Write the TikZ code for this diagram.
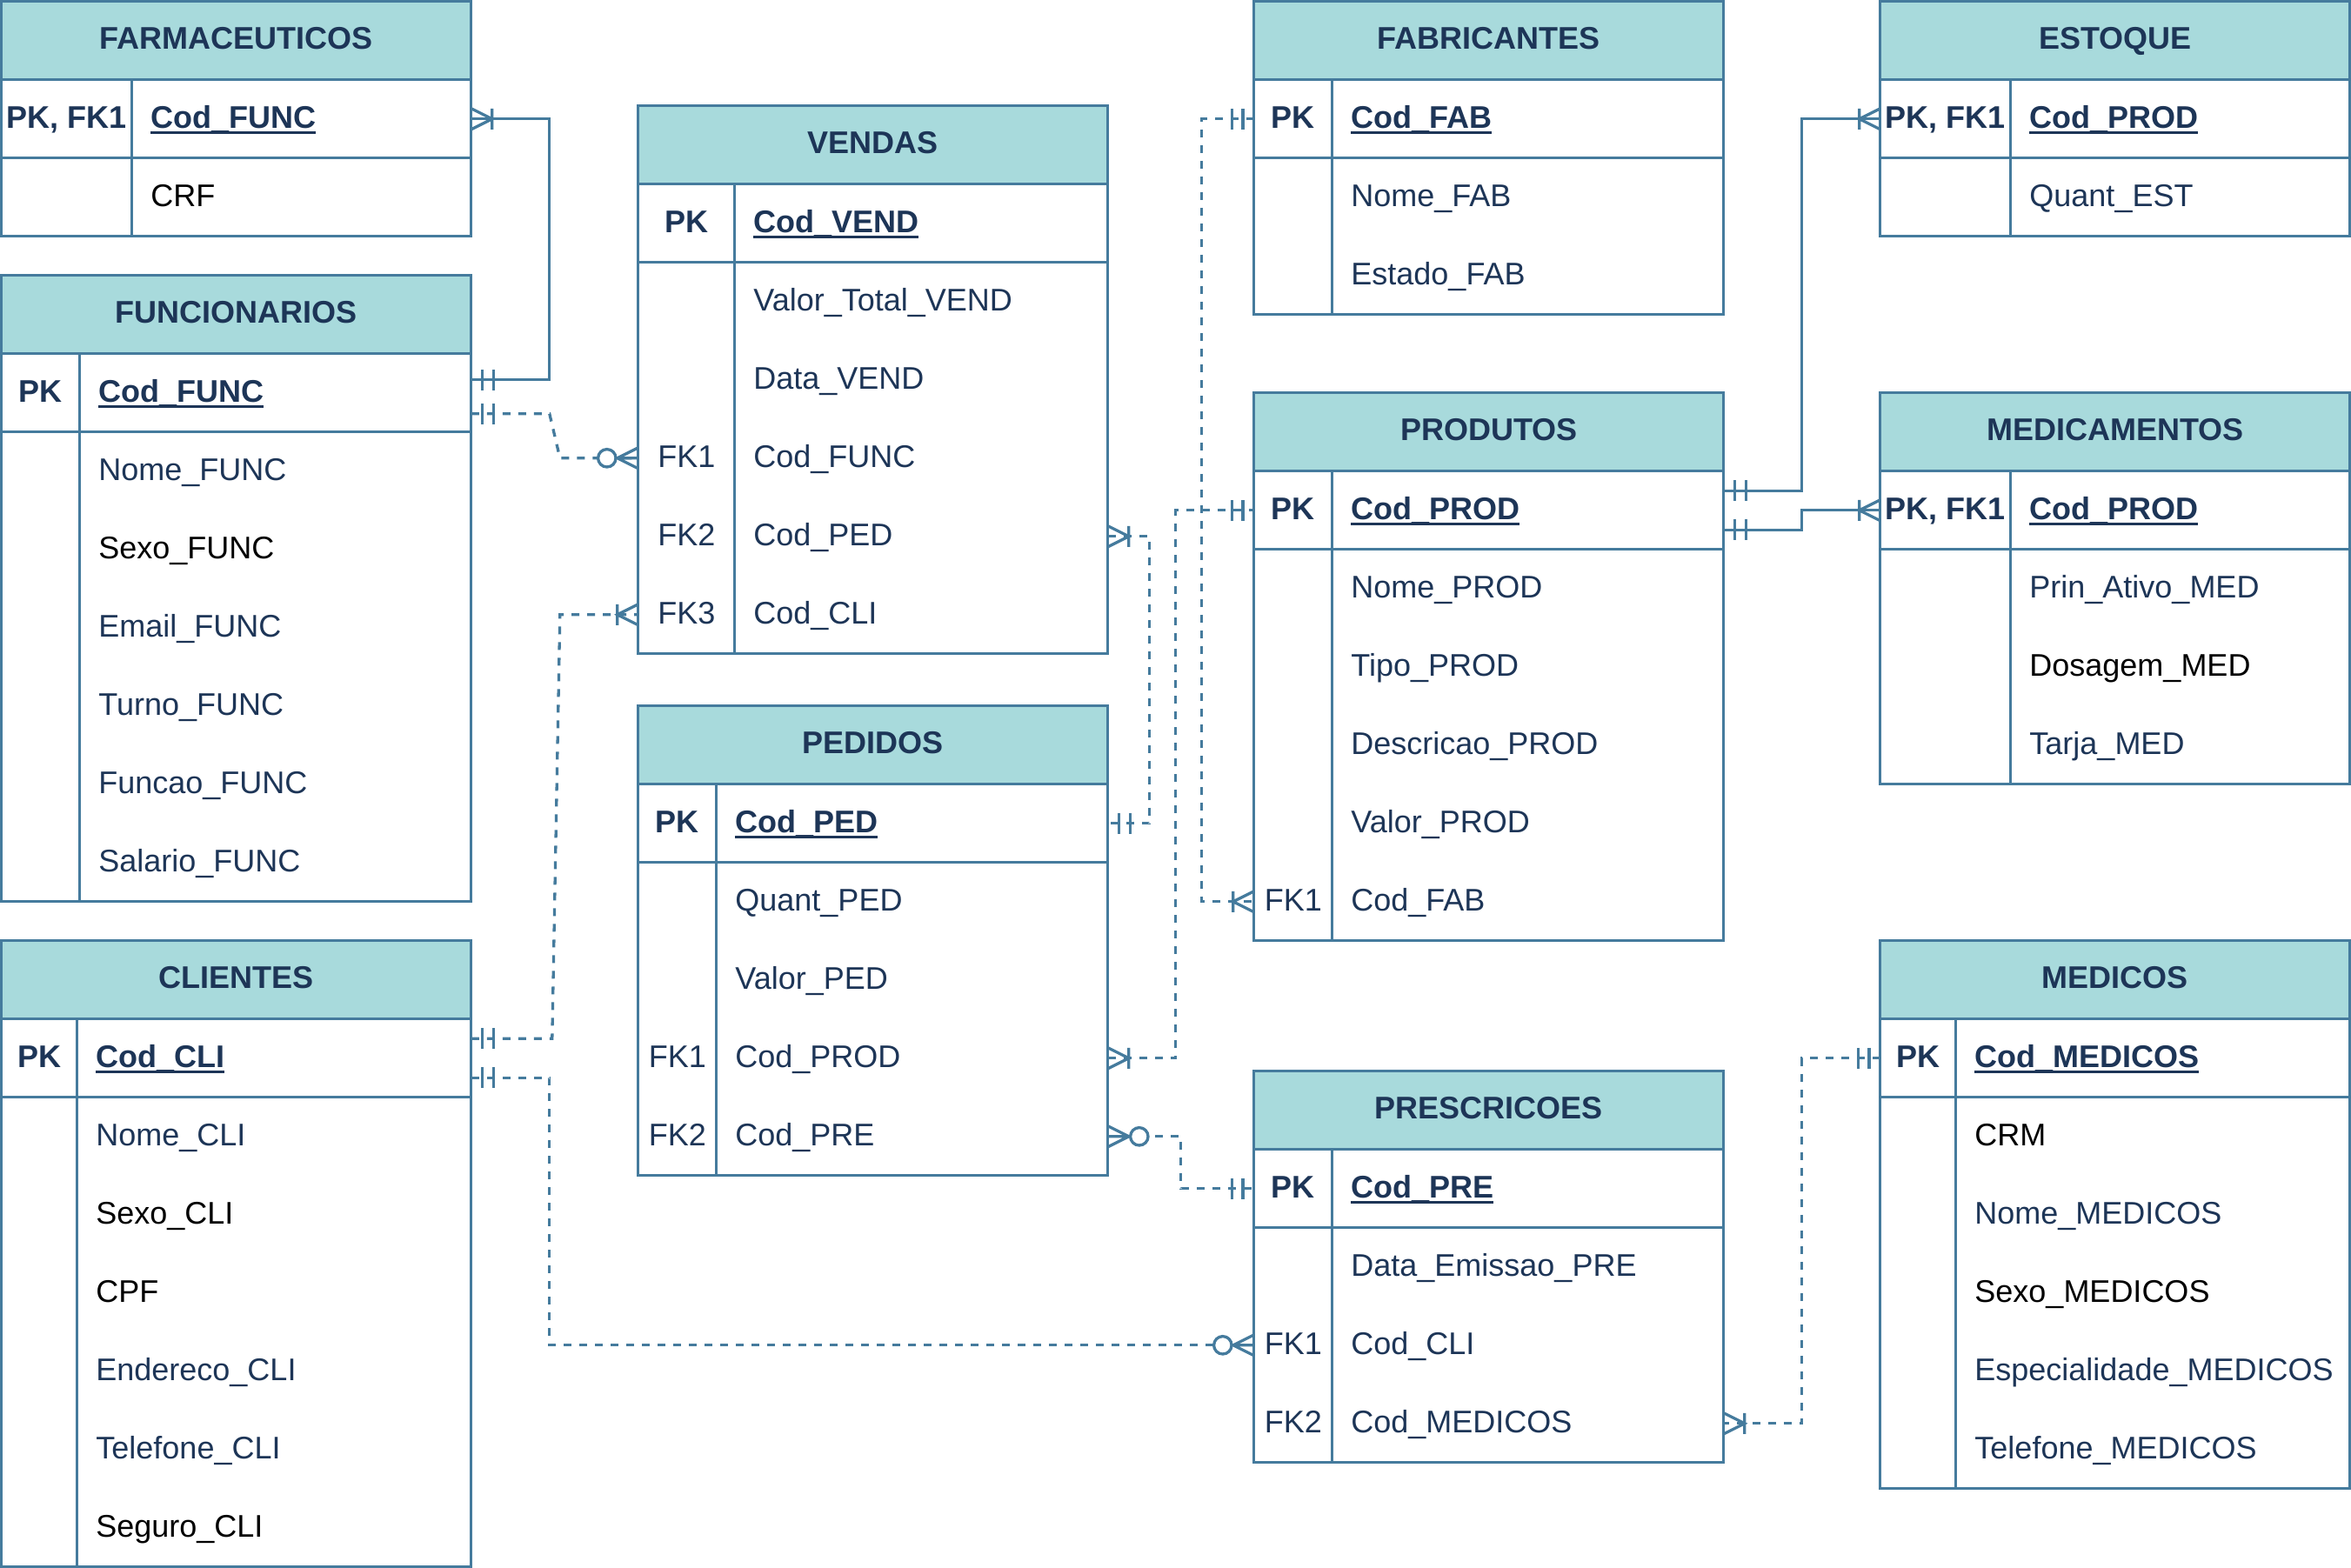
\documentclass[tikz,border=0pt]{standalone}
\usepackage{fontspec}
\setmainfont{Liberation Sans}
\usetikzlibrary{calc}
\definecolor{hdrfill}{HTML}{A8DADC}
\definecolor{strk}{HTML}{457B9D}
\definecolor{navy}{HTML}{1D3557}
\newcommand\ulx[1]{\setbox0=\hbox{#1}\rlap{\rule[-2.2pt]{\wd0}{1pt}}\box0}
\tikzset{
  hdr/.style={draw=strk, fill=hdrfill, line width=1.1pt, minimum width=180pt, minimum height=30pt,
    inner sep=0pt, outer sep=0pt, text=navy, font=\bfseries\fontsize{12}{14}\selectfont,
    text height=8.4pt, text depth=2.2pt},
  rowbox/.style={minimum width=180pt, minimum height=30pt, inner sep=0pt, outer sep=0pt},
  keytxt/.style={anchor=base, inner sep=0pt, text=navy, font=\fontsize{12}{14}\selectfont},
  attrtxt/.style={anchor=base west, inner sep=0pt, text=navy, font=\fontsize{12}{14}\selectfont},
  tline/.style={draw=strk, line width=1.1pt},
  conn/.style={draw=strk, line width=1.1pt},
  dconn/.style={conn, dash pattern=on 3pt off 3pt},
}
\newcommand\ertable[6]{%
  \def\tx{#2}\def\ty{#3}\def\tk{#4}\def\tn{#1}%
  \node[hdr, anchor=north west] (#1) at (#2,#3) {#6};
  \draw[tline] (#2,{#3+30}) rectangle ({#2+180},{#3+30+30*#5});
  \draw[tline] (#2,{#3+60}) -- ({#2+180},{#3+60});
  \draw[tline] ({#2+#4},{#3+30}) -- ({#2+#4},{#3+30+30*#5});
}
\newcommand\errow[3]{%
  \node[rowbox] (\tn#1) at ({\tx+90},{\ty+30*#1+15}) {};
  \if\relax\detokenize{#2}\relax\else
    \node[keytxt] (\tn#1k) at ({\tx+\tk/2},{\ty+30*#1+18.6}) {#2};
  \fi
  \node[attrtxt] (\tn#1a) at ({\tx+\tk+7},{\ty+30*#1+18.6}) {#3};
}
\newcommand\mone[2]{%
  \begin{scope}[shift={(#1)}, xscale=#2]
    \draw[conn] (4.3,-4) -- (4.3,4) (8.5,-4) -- (8.5,4);
  \end{scope}}
\newcommand\mmany[2]{%
  \begin{scope}[shift={(#1)}, xscale=#2]
    \draw[conn] (0,-4) -- (8,0) -- (0,4) (8,-4) -- (8,4);
  \end{scope}}
\newcommand\zmany[2]{%
  \begin{scope}[shift={(#1)}, xscale=#2]
    \draw[conn] (0,-4) -- (8,0) -- (0,4) (0,0) -- (8.6,0);
    \draw[conn, fill=white] (12,0) circle (3.4);
  \end{scope}}
\begin{document}
\begin{tikzpicture}[x=1pt, y=-1pt]
\useasboundingbox (-0.6,-0.6) rectangle (900.4,600.4);
\fill[white] (-0.6,-0.6) rectangle (900.4,600.4);

\ertable{farm}{0}{0}{50}{2}{FARMACEUTICOS}
\errow{1}{\textbf{PK, FK1}}{\ulx{\textbf{Cod\_FUNC}}}
\errow{2}{}{{\color{black}CRF}}

\ertable{func}{0}{105}{30}{7}{FUNCIONARIOS}
\errow{1}{\textbf{PK}}{\ulx{\textbf{Cod\_FUNC}}}
\errow{2}{}{Nome\_FUNC}
\errow{3}{}{{\color{black}Sexo\_FUNC}}
\errow{4}{}{Email\_FUNC}
\errow{5}{}{Turno\_FUNC}
\errow{6}{}{Funcao\_FUNC}
\errow{7}{}{Salario\_FUNC}

\ertable{cli}{0}{360}{29}{7}{CLIENTES}
\errow{1}{\textbf{PK}}{\ulx{\textbf{Cod\_CLI}}}
\errow{2}{}{Nome\_CLI}
\errow{3}{}{{\color{black}Sexo\_CLI}}
\errow{4}{}{{\color{black}CPF}}
\errow{5}{}{Endereco\_CLI}
\errow{6}{}{Telefone\_CLI}
\errow{7}{}{{\color{black}Seguro\_CLI}}

\ertable{vend}{244}{40}{37}{6}{VENDAS}
\errow{1}{\textbf{PK}}{\ulx{\textbf{Cod\_VEND}}}
\errow{2}{}{Valor\_Total\_VEND}
\errow{3}{}{Data\_VEND}
\errow{4}{FK1}{Cod\_FUNC}
\errow{5}{FK2}{Cod\_PED}
\errow{6}{FK3}{Cod\_CLI}

\ertable{ped}{244}{270}{30}{5}{PEDIDOS}
\errow{1}{\textbf{PK}}{\ulx{\textbf{Cod\_PED}}}
\errow{2}{}{Quant\_PED}
\errow{3}{}{Valor\_PED}
\errow{4}{FK1}{Cod\_PROD}
\errow{5}{FK2}{Cod\_PRE}

\ertable{fab}{480}{0}{30}{3}{FABRICANTES}
\errow{1}{\textbf{PK}}{\ulx{\textbf{Cod\_FAB}}}
\errow{2}{}{Nome\_FAB}
\errow{3}{}{Estado\_FAB}

\ertable{prod}{480}{150}{30}{6}{PRODUTOS}
\errow{1}{\textbf{PK}}{\ulx{\textbf{Cod\_PROD}}}
\errow{2}{}{Nome\_PROD}
\errow{3}{}{Tipo\_PROD}
\errow{4}{}{Descricao\_PROD}
\errow{5}{}{Valor\_PROD}
\errow{6}{FK1}{Cod\_FAB}

\ertable{pre}{480}{410}{30}{4}{PRESCRICOES}
\errow{1}{\textbf{PK}}{\ulx{\textbf{Cod\_PRE}}}
\errow{2}{}{Data\_Emissao\_PRE}
\errow{3}{FK1}{Cod\_CLI}
\errow{4}{FK2}{Cod\_MEDICOS}

\ertable{est}{720}{0}{50}{2}{ESTOQUE}
\errow{1}{\textbf{PK, FK1}}{\ulx{\textbf{Cod\_PROD}}}
\errow{2}{}{Quant\_EST}

\ertable{mdc}{720}{150}{50}{4}{MEDICAMENTOS}
\errow{1}{\textbf{PK, FK1}}{\ulx{\textbf{Cod\_PROD}}}
\errow{2}{}{Prin\_Ativo\_MED}
\errow{3}{}{{\color{black}Dosagem\_MED}}
\errow{4}{}{Tarja\_MED}

\ertable{mdo}{720}{360}{29}{6}{MEDICOS}
\errow{1}{\textbf{PK}}{\ulx{\textbf{Cod\_MEDICOS}}}
\errow{2}{}{{\color{black}CRM}}
\errow{3}{}{Nome\_MEDICOS}
\errow{4}{}{{\color{black}Sexo\_MEDICOS}}
\errow{5}{}{Especialidade\_MEDICOS}
\errow{6}{}{Telefone\_MEDICOS}

% connectors
\draw[conn] (farm1.east) -- ++(30,0) |- ($(func1.east)+(0,-5)$);
\draw[dconn] ($(func1.east)+(0,8)$) -- ++(30,0) -- ($(vend4.west)+(-30,0)$) -- (vend4.west);
\draw[dconn] ($(cli1.east)+(0,-7.5)$) -- ++(31,0) -- ($(vend6.west)+(-30,0)$) -- (vend6.west);
\draw[dconn] ($(cli1.east)+(0,7.5)$) -- ++(30,0) |- (pre3.west);
\draw[dconn] (vend5.east) -- ++(16,0) |- (ped1.east);
\draw[dconn] (ped4.east) -- ++(26,0) |- (prod1.west);
\draw[dconn] (ped5.east) -- ++(28,0) |- (pre1.west);
\draw[dconn] (fab1.west) -- ++(-20,0) |- (prod6.west);
\draw[conn] ($(prod1.east)+(0,-7.5)$) -- ++(30,0) |- (est1.west);
\draw[conn] ($(prod1.east)+(0,7.5)$) -- ++(30,0) |- (mdc1.west);
\draw[dconn] (mdo1.west) -- ++(-30,0) |- (pre4.east);

% end markers
\mmany{farm1.east}{1}
\mone{$(func1.east)+(0,-5)$}{1}
\mone{$(func1.east)+(0,8)$}{1}
\zmany{vend4.west}{-1}
\mone{$(cli1.east)+(0,-7.5)$}{1}
\mmany{vend6.west}{-1}
\mone{$(cli1.east)+(0,7.5)$}{1}
\zmany{pre3.west}{-1}
\mmany{vend5.east}{1}
\mone{ped1.east}{1}
\mmany{ped4.east}{1}
\mone{prod1.west}{-1}
\zmany{ped5.east}{1}
\mone{pre1.west}{-1}
\mone{fab1.west}{-1}
\mmany{prod6.west}{-1}
\mone{$(prod1.east)+(0,-7.5)$}{1}
\mmany{est1.west}{-1}
\mone{$(prod1.east)+(0,7.5)$}{1}
\mmany{mdc1.west}{-1}
\mone{mdo1.west}{-1}
\mmany{pre4.east}{1}
\end{tikzpicture}
\end{document}
